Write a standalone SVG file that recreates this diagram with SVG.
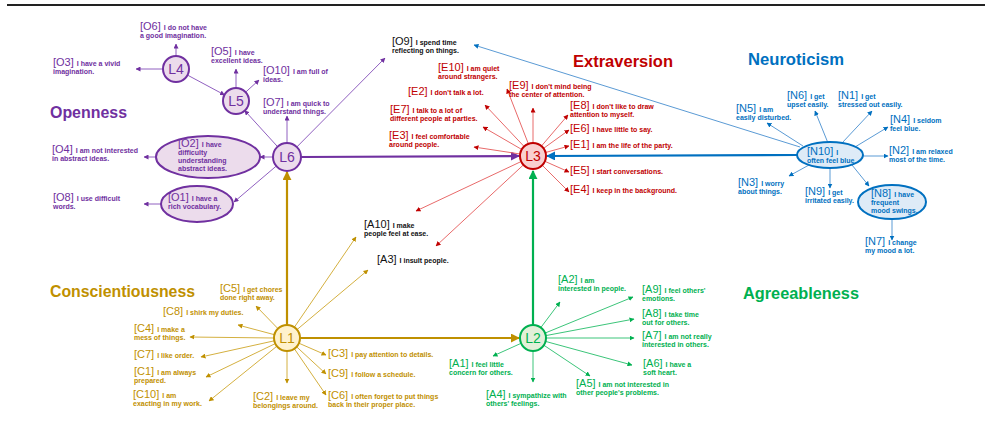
<svg xmlns="http://www.w3.org/2000/svg" width="992" height="426" viewBox="0 0 992 426">
<style>
text{font-family:"Liberation Sans",Arial,sans-serif}
.b{font-size:11px}
.s{font-size:7px;font-weight:bold}
.t{font-size:17px;font-weight:bold}
.lab{font-size:14px;text-anchor:middle}
.pu{fill:#7030a0}.re{fill:#c00000}.bl{fill:#0070c0}.go{fill:#bf9000}.gr{fill:#00b050}.bk{fill:#111}
.np{fill:#ecdcec;stroke:#7030a0;stroke-width:2}
.nr{fill:#f9d0d0;stroke:#c00000;stroke-width:2}
.nb{fill:#deebf7;stroke:#0070c0;stroke-width:2}
.ng{fill:#fff2cc;stroke:#bf9000;stroke-width:2}
.nn{fill:#e2f0d9;stroke:#00b050;stroke-width:2}
.cp{stroke:#9060c0;stroke-width:1;fill:none;marker-end:url(#ap)}
.cr{stroke:#e86a6a;stroke-width:1;fill:none;marker-end:url(#ar)}
.cb{stroke:#5b9bd5;stroke-width:1;fill:none;marker-end:url(#ab)}
.cg{stroke:#d4b040;stroke-width:1;fill:none;marker-end:url(#ag)}
.cn{stroke:#3cc57a;stroke-width:1;fill:none;marker-end:url(#an)}
.TP{stroke:#7030a0;stroke-width:2.2;fill:none;marker-end:url(#AP)}
.TB{stroke:#0070c0;stroke-width:2.2;fill:none;marker-end:url(#AB)}
.TG{stroke:#bf9000;stroke-width:2.2;fill:none;marker-end:url(#AG)}
.TN{stroke:#00b050;stroke-width:2.2;fill:none;marker-end:url(#AN)}
</style>
<defs>
<marker id="ap" viewBox="0 0 10 10" refX="9" refY="5" markerWidth="5" markerHeight="5" markerUnits="userSpaceOnUse" orient="auto"><path d="M0,0L10,5L0,10z" fill="#7030a0"/></marker>
<marker id="ar" viewBox="0 0 10 10" refX="9" refY="5" markerWidth="5" markerHeight="5" markerUnits="userSpaceOnUse" orient="auto"><path d="M0,0L10,5L0,10z" fill="#c00000"/></marker>
<marker id="ab" viewBox="0 0 10 10" refX="9" refY="5" markerWidth="5" markerHeight="5" markerUnits="userSpaceOnUse" orient="auto"><path d="M0,0L10,5L0,10z" fill="#0070c0"/></marker>
<marker id="ag" viewBox="0 0 10 10" refX="9" refY="5" markerWidth="5" markerHeight="5" markerUnits="userSpaceOnUse" orient="auto"><path d="M0,0L10,5L0,10z" fill="#bf9000"/></marker>
<marker id="an" viewBox="0 0 10 10" refX="9" refY="5" markerWidth="5" markerHeight="5" markerUnits="userSpaceOnUse" orient="auto"><path d="M0,0L10,5L0,10z" fill="#00b050"/></marker>
<marker id="AP" viewBox="0 0 10 10" refX="9" refY="5" markerWidth="9" markerHeight="9" markerUnits="userSpaceOnUse" orient="auto"><path d="M0,0L10,5L0,10z" fill="#7030a0"/></marker>
<marker id="AB" viewBox="0 0 10 10" refX="9" refY="5" markerWidth="9" markerHeight="9" markerUnits="userSpaceOnUse" orient="auto"><path d="M0,0L10,5L0,10z" fill="#0070c0"/></marker>
<marker id="AG" viewBox="0 0 10 10" refX="9" refY="5" markerWidth="9" markerHeight="9" markerUnits="userSpaceOnUse" orient="auto"><path d="M0,0L10,5L0,10z" fill="#bf9000"/></marker>
<marker id="AN" viewBox="0 0 10 10" refX="9" refY="5" markerWidth="9" markerHeight="9" markerUnits="userSpaceOnUse" orient="auto"><path d="M0,0L10,5L0,10z" fill="#00b050"/></marker>
</defs>
<rect width="992" height="426" fill="#fff"/>
<line x1="7" y1="5" x2="985" y2="5" stroke="#222" stroke-width="2"/>

<g id="titles">
<text class="t pu" x="50" y="118" textLength="77" lengthAdjust="spacingAndGlyphs">Openness</text>
<text class="t re" x="573" y="67" textLength="100" lengthAdjust="spacingAndGlyphs">Extraversion</text>
<text class="t bl" x="748" y="65" textLength="96" lengthAdjust="spacingAndGlyphs">Neuroticism</text>
<text class="t go" x="50" y="297" textLength="145" lengthAdjust="spacingAndGlyphs">Conscientiousness</text>
<text class="t gr" x="743" y="299" textLength="116" lengthAdjust="spacingAndGlyphs">Agreeableness</text>
</g>

<g id="connectors">
<path class="cp" d="M176,56L176,44"/>
<path class="cp" d="M163,69L136,69"/>
<path class="cp" d="M187.5,75.1L224.5,94.9"/>
<path class="cp" d="M236,88L236,69"/>
<path class="cp" d="M245.6,92.2L259,80"/>
<path class="cp" d="M277.6,146.7L244.7,110.6"/>
<path class="cp" d="M287,143L287,116"/>
<path class="cp" d="M296.8,147L385,58"/>
<path class="cp" d="M273,157L260,157"/>
<path class="cp" d="M276.3,166L234,202"/>
<path class="cp" d="M156,157L144,157"/>
<path class="cp" d="M161,204L144,204"/>
<path class="TP" d="M301,157L519,156"/>

<path class="cr" d="M528.4,143.9L507,89"/>
<path class="cr" d="M524.1,146.5L485,105"/>
<path class="cr" d="M521.8,149.5L483,127"/>
<path class="cr" d="M520.1,154L474,147"/>
<path class="cr" d="M533,143L533,108"/>
<path class="cr" d="M541.4,146.1L568,115"/>
<path class="cr" d="M543.5,148.4L569,130"/>
<path class="cr" d="M545.5,152.5L569,146"/>
<path class="cr" d="M544.9,161.3L569,172"/>
<path class="cr" d="M542.2,165.2L569,192"/>
<path class="cr" d="M521.2,161.5L416,211"/>
<path class="cr" d="M523.5,164.8L436,246"/>

<path class="TB" d="M797,155L547,156"/>
<path class="cb" d="M800,147L474,45"/>
<path class="cb" d="M803,146L767,123"/>
<path class="cb" d="M828,143L815,111"/>
<path class="cb" d="M842,143L872,111"/>
<path class="cb" d="M855,147L888,127"/>
<path class="cb" d="M863,156L888,156"/>
<path class="cb" d="M809,165L789,176"/>
<path class="cb" d="M830,168L830,188"/>
<path class="cb" d="M852,165L869,186"/>
<path class="cb" d="M892,219L892,240"/>

<path class="TG" d="M287,325L287,172"/>
<path class="TG" d="M300,338L519,338"/>
<path class="cg" d="M294.3,327.3L356,237"/>
<path class="cg" d="M297,329.6L368,270"/>
<path class="cg" d="M278,328.7L256,306"/>
<path class="cg" d="M274.4,334.7L238,325"/>
<path class="cg" d="M274,338L190,337"/>
<path class="cg" d="M274.3,340.8L201,357"/>
<path class="cg" d="M275.3,343.6L206,377"/>
<path class="cg" d="M276.9,346.2L209,401"/>
<path class="cg" d="M287,351L287,383"/>
<path class="cg" d="M298.9,343.2L326,355"/>
<path class="cg" d="M296.6,346.8L326,374"/>
<path class="cg" d="M294.3,348.7L326,395"/>

<path class="TN" d="M533,325L533,171"/>
<path class="cn" d="M540.8,327.6L560,302"/>
<path class="cn" d="M545,333.1L633,297"/>
<path class="cn" d="M545.8,335.6L634,319"/>
<path class="cn" d="M546,338L634,338"/>
<path class="cn" d="M545.5,341.4L632,365"/>
<path class="cn" d="M543.8,345.2L590,376"/>
<path class="cn" d="M533,351L533,382"/>
<path class="cn" d="M521.1,343.3L493,356"/>
</g>

<!-- Openness -->
<g id="L4"><circle class="np" cx="176" cy="69" r="13"/><text class="lab pu" x="176" y="74">L4</text></g>
<g id="L5"><circle class="np" cx="236" cy="101" r="13"/><text class="lab pu" x="236" y="106">L5</text></g>
<g id="L6"><circle class="np" cx="287" cy="157" r="14"/><text class="lab pu" x="287" y="162">L6</text></g>
<g id="O6"><text class="pu" x="140" y="30"><tspan class="b">[O6]</tspan><tspan class="s" dx="3">I do not have</tspan><tspan class="s" x="140" dy="8">a good imagination.</tspan></text></g>
<g id="O3"><text class="pu" x="53" y="66"><tspan class="b">[O3]</tspan><tspan class="s" dx="3">I have a vivid</tspan><tspan class="s" x="53" dy="8">imagination.</tspan></text></g>
<g id="O5"><text class="pu" x="211" y="55"><tspan class="b">[O5]</tspan><tspan class="s" dx="3">I have</tspan><tspan class="s" x="211" dy="8">excellent ideas.</tspan></text></g>
<g id="O10"><text class="pu" x="263" y="74"><tspan class="b">[O10]</tspan><tspan class="s" dx="3">I am full of</tspan><tspan class="s" x="263" dy="8">ideas.</tspan></text></g>
<g id="O7"><text class="pu" x="263" y="106"><tspan class="b">[O7]</tspan><tspan class="s" dx="3">I am quick to</tspan><tspan class="s" x="263" dy="8">understand things.</tspan></text></g>
<g id="O9"><text class="bk" x="392" y="45"><tspan class="b">[O9]</tspan><tspan class="s" dx="3">I spend time</tspan><tspan class="s" x="392" dy="8">reflecting on things.</tspan></text></g>
<g id="O2"><ellipse class="np" cx="208" cy="157" rx="52" ry="21"/><text class="pu" x="178" y="147"><tspan class="b">[O2]</tspan><tspan class="s" dx="3">I have</tspan><tspan class="s" x="178" dy="8">difficulty</tspan><tspan class="s" x="178" dy="8">understanding</tspan><tspan class="s" x="178" dy="8">abstract ideas.</tspan></text></g>
<g id="O4"><text class="pu" x="52" y="153"><tspan class="b">[O4]</tspan><tspan class="s" dx="3">I am not interested</tspan><tspan class="s" x="52" dy="8">in abstract ideas.</tspan></text></g>
<g id="O1"><ellipse class="np" cx="197" cy="204" rx="36" ry="18"/><text class="pu" x="168" y="201"><tspan class="b">[O1]</tspan><tspan class="s" dx="3">I have a</tspan><tspan class="s" x="168" dy="8">rich vocabulary.</tspan></text></g>
<g id="O8"><text class="pu" x="53" y="201"><tspan class="b">[O8]</tspan><tspan class="s" dx="3">I use difficult</tspan><tspan class="s" x="53" dy="8">words.</tspan></text></g>

<!-- Extraversion -->
<g id="L3"><circle class="nr" cx="533" cy="156" r="13"/><text class="lab re" x="533" y="161">L3</text></g>
<g id="E10"><text class="re" x="438" y="71"><tspan class="b">[E10]</tspan><tspan class="s" dx="3">I am quiet</tspan><tspan class="s" x="438" dy="8">around strangers.</tspan></text></g>
<g id="E9"><text class="re" x="509" y="89"><tspan class="b">[E9]</tspan><tspan class="s" dx="3">I don't mind being</tspan><tspan class="s" x="509" dy="8">the center of attention.</tspan></text></g>
<g id="E2"><text class="re" x="408" y="95"><tspan class="b">[E2]</tspan><tspan class="s" dx="3">I don't talk a lot.</tspan></text></g>
<g id="E7"><text class="re" x="390" y="113"><tspan class="b">[E7]</tspan><tspan class="s" dx="3">I talk to a lot of</tspan><tspan class="s" x="390" dy="8">different people at parties.</tspan></text></g>
<g id="E3"><text class="re" x="389" y="139"><tspan class="b">[E3]</tspan><tspan class="s" dx="3">I feel comfortable</tspan><tspan class="s" x="389" dy="8">around people.</tspan></text></g>
<g id="E8"><text class="re" x="570" y="109"><tspan class="b">[E8]</tspan><tspan class="s" dx="3">I don't like to draw</tspan><tspan class="s" x="570" dy="8">attention to myself.</tspan></text></g>
<g id="E6"><text class="re" x="570" y="132"><tspan class="b">[E6]</tspan><tspan class="s" dx="3">I have little to say.</tspan></text></g>
<g id="E1"><text class="re" x="570" y="148"><tspan class="b">[E1]</tspan><tspan class="s" dx="3">I am the life of the party.</tspan></text></g>
<g id="E5"><text class="re" x="570" y="174"><tspan class="b">[E5]</tspan><tspan class="s" dx="3">I start conversations.</tspan></text></g>
<g id="E4"><text class="re" x="570" y="193"><tspan class="b">[E4]</tspan><tspan class="s" dx="3">I keep in the background.</tspan></text></g>

<!-- Neuroticism -->
<g id="N10"><ellipse class="nb" cx="830" cy="155" rx="33" ry="13"/><text class="bl" x="807" y="155"><tspan class="b">[N10]</tspan><tspan class="s" dx="3">I</tspan><tspan class="s" x="807" dy="8">often feel blue</tspan></text></g>
<g id="N5"><text class="bl" x="736" y="112"><tspan class="b">[N5]</tspan><tspan class="s" dx="3">I am</tspan><tspan class="s" x="736" dy="8">easily disturbed.</tspan></text></g>
<g id="N6"><text class="bl" x="787" y="99"><tspan class="b">[N6]</tspan><tspan class="s" dx="3">I get</tspan><tspan class="s" x="787" dy="8">upset easily.</tspan></text></g>
<g id="N1"><text class="bl" x="838" y="99"><tspan class="b">[N1]</tspan><tspan class="s" dx="3">I get</tspan><tspan class="s" x="838" dy="8">stressed out easily.</tspan></text></g>
<g id="N4"><text class="bl" x="890" y="123"><tspan class="b">[N4]</tspan><tspan class="s" dx="3">I seldom</tspan><tspan class="s" x="890" dy="8">feel blue.</tspan></text></g>
<g id="N2"><text class="bl" x="889" y="154"><tspan class="b">[N2]</tspan><tspan class="s" dx="3">I am relaxed</tspan><tspan class="s" x="889" dy="8">most of the time.</tspan></text></g>
<g id="N3"><text class="bl" x="738" y="186"><tspan class="b">[N3]</tspan><tspan class="s" dx="3">I worry</tspan><tspan class="s" x="738" dy="8">about things.</tspan></text></g>
<g id="N9"><text class="bl" x="805" y="195"><tspan class="b">[N9]</tspan><tspan class="s" dx="3">I get</tspan><tspan class="s" x="805" dy="8">irritated easily.</tspan></text></g>
<g id="N8"><ellipse class="nb" cx="892" cy="202" rx="34" ry="17"/><text class="bl" x="871" y="197"><tspan class="b">[N8]</tspan><tspan class="s" dx="3">I have</tspan><tspan class="s" x="871" dy="8">frequent</tspan><tspan class="s" x="871" dy="8">mood swings.</tspan></text></g>
<g id="N7"><text class="bl" x="865" y="245"><tspan class="b">[N7]</tspan><tspan class="s" dx="3">I change</tspan><tspan class="s" x="865" dy="8">my mood a lot.</tspan></text></g>

<!-- Conscientiousness -->
<g id="L1"><circle class="ng" cx="287" cy="338" r="13"/><text class="lab go" x="287" y="343">L1</text></g>
<g id="C5"><text class="go" x="220" y="292"><tspan class="b">[C5]</tspan><tspan class="s" dx="3">I get chores</tspan><tspan class="s" x="220" dy="8">done right away.</tspan></text></g>
<g id="C8"><text class="go" x="163" y="315"><tspan class="b">[C8]</tspan><tspan class="s" dx="3">I shirk my duties.</tspan></text></g>
<g id="C4"><text class="go" x="134" y="332"><tspan class="b">[C4]</tspan><tspan class="s" dx="3">I make a</tspan><tspan class="s" x="134" dy="8">mess of things.</tspan></text></g>
<g id="C7"><text class="go" x="134" y="358"><tspan class="b">[C7]</tspan><tspan class="s" dx="3">I like order.</tspan></text></g>
<g id="C1"><text class="go" x="134" y="375"><tspan class="b">[C1]</tspan><tspan class="s" dx="3">I am always</tspan><tspan class="s" x="134" dy="8">prepared.</tspan></text></g>
<g id="C10"><text class="go" x="133" y="398"><tspan class="b">[C10]</tspan><tspan class="s" dx="3">I am</tspan><tspan class="s" x="133" dy="8">exacting in my work.</tspan></text></g>
<g id="C2"><text class="go" x="253" y="400"><tspan class="b">[C2]</tspan><tspan class="s" dx="3">I leave my</tspan><tspan class="s" x="253" dy="8">belongings around.</tspan></text></g>
<g id="C3"><text class="go" x="328" y="357"><tspan class="b">[C3]</tspan><tspan class="s" dx="3">I pay attention to details.</tspan></text></g>
<g id="C9"><text class="go" x="328" y="377"><tspan class="b">[C9]</tspan><tspan class="s" dx="3">I follow a schedule.</tspan></text></g>
<g id="C6"><text class="go" x="328" y="399"><tspan class="b">[C6]</tspan><tspan class="s" dx="3">I often forget to put things</tspan><tspan class="s" x="328" dy="8">back in their proper place.</tspan></text></g>

<!-- Agreeableness -->
<g id="L2"><circle class="nn" cx="533" cy="338" r="13"/><text class="lab gr" x="533" y="343">L2</text></g>
<g id="A10"><text class="bk" x="364" y="228"><tspan class="b">[A10]</tspan><tspan class="s" dx="3">I make</tspan><tspan class="s" x="364" dy="8">people feel at ease.</tspan></text></g>
<g id="A3"><text class="bk" x="377" y="263"><tspan class="b">[A3]</tspan><tspan class="s" dx="3">I insult people.</tspan></text></g>
<g id="A2"><text class="gr" x="558" y="283"><tspan class="b">[A2]</tspan><tspan class="s" dx="3">I am</tspan><tspan class="s" x="558" dy="8">interested in people.</tspan></text></g>
<g id="A9"><text class="gr" x="642" y="293"><tspan class="b">[A9]</tspan><tspan class="s" dx="3">I feel others'</tspan><tspan class="s" x="642" dy="8">emotions.</tspan></text></g>
<g id="A8"><text class="gr" x="642" y="317"><tspan class="b">[A8]</tspan><tspan class="s" dx="3">I take time</tspan><tspan class="s" x="642" dy="8">out for others.</tspan></text></g>
<g id="A7"><text class="gr" x="642" y="339"><tspan class="b">[A7]</tspan><tspan class="s" dx="3">I am not really</tspan><tspan class="s" x="642" dy="8">interested in others.</tspan></text></g>
<g id="A6"><text class="gr" x="643" y="367"><tspan class="b">[A6]</tspan><tspan class="s" dx="3">I have a</tspan><tspan class="s" x="643" dy="8">soft heart.</tspan></text></g>
<g id="A5"><text class="gr" x="576" y="387"><tspan class="b">[A5]</tspan><tspan class="s" dx="3">I am not interested in</tspan><tspan class="s" x="576" dy="8">other people's problems.</tspan></text></g>
<g id="A4"><text class="gr" x="486" y="398"><tspan class="b">[A4]</tspan><tspan class="s" dx="3">I sympathize with</tspan><tspan class="s" x="486" dy="8">others' feelings.</tspan></text></g>
<g id="A1"><text class="gr" x="449" y="367"><tspan class="b">[A1]</tspan><tspan class="s" dx="3">I feel little</tspan><tspan class="s" x="449" dy="8">concern for others.</tspan></text></g>
</svg>
